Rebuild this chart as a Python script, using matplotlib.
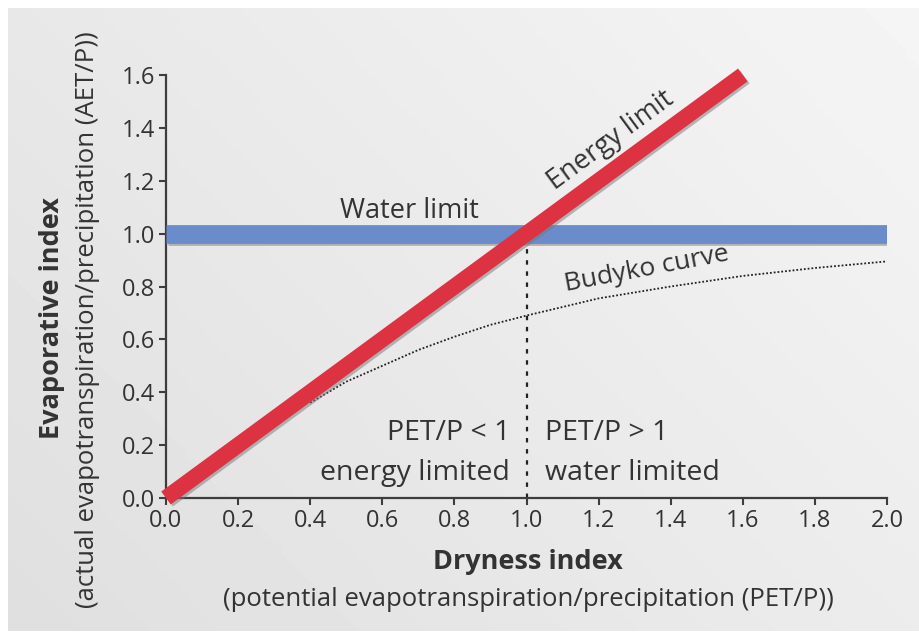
import matplotlib.pyplot as plt
import matplotlib.patheffects as pe
import numpy as np

plt.rcParams['font.family'] = ['Open Sans', 'DejaVu Sans']

# Data
energy_x = [0.0, 1.6]
energy_y = [0.0, 1.6]
water_x = [0.0, 2.0]
water_y = [1.0, 1.0]
budyko_x = [0.4, 0.5, 0.6, 0.7, 0.8, 0.9, 1.0, 1.2, 1.4, 1.6, 1.8, 2.0]
budyko_y = [0.36, 0.44, 0.50, 0.56, 0.61, 0.655, 0.69, 0.755, 0.80, 0.84, 0.87, 0.895]
x_ticks = [0.0, 0.2, 0.4, 0.6, 0.8, 1.0, 1.2, 1.4, 1.6, 1.8, 2.0]
y_ticks = [0.0, 0.2, 0.4, 0.6, 0.8, 1.0, 1.2, 1.4, 1.6]

text_col = '#333333'
spine_col = '#3d3d3d'

fig = plt.figure(figsize=(9.2, 6.33), dpi=100)
fig.patch.set_facecolor('white')

# grey backdrop (light in the upper right, darker lower left)
bg = fig.add_axes([8 / 920, 2 / 633, 1 - 8 / 920, 1 - 10 / 633], zorder=-10)
gx, gy = np.meshgrid(np.linspace(0, 1, 200), np.linspace(0, 1, 140))
shade = 0.875 + 0.085 * (0.6 * gx + 0.4 * (1 - gy))
bg.imshow(shade, cmap='gray', vmin=0, vmax=1, aspect='auto', extent=[0, 1, 0, 1])
bg.axis('off')

ax = fig.add_axes([166 / 920, 1 - 498 / 633, (887 - 166) / 920, (498 - 75) / 633])
ax.patch.set_alpha(0)

shadow = [pe.SimpleLineShadow(offset=(1.5, -1.5), shadow_color='#777777', alpha=0.5), pe.Normal()]

ax.plot(budyko_x, budyko_y, linestyle=(0, (1, 1.1)), color='#222222', linewidth=1.3, zorder=2)
ax.plot([1.0, 1.0], [0.0, 0.98], linestyle=(0, (2, 3)), color='#222222', linewidth=1.6, zorder=2)
ax.plot(water_x, water_y, color='#6a8ccb', linewidth=13.5, solid_capstyle='butt',
        path_effects=shadow, zorder=3)
ax.plot(energy_x, energy_y, color='#dc3242', linewidth=11.5, solid_capstyle='butt',
        path_effects=shadow, zorder=4, clip_on=False)

ax.set_xlim(0, 2.0)
ax.set_ylim(0, 1.6)
ax.set_xticks(x_ticks)
ax.set_yticks(y_ticks)
ax.set_xticklabels([f'{v:.1f}' for v in x_ticks])
ax.set_yticklabels([f'{v:.1f}' for v in y_ticks])
ax.tick_params(colors=spine_col, labelcolor=text_col, labelsize=17, length=5, width=1.5, pad=3)
for s in ['top', 'right']:
    ax.spines[s].set_visible(False)
for s in ['left', 'bottom']:
    ax.spines[s].set_color(spine_col)
    ax.spines[s].set_linewidth(1.6)

# annotations
ax.text(0.483, 1.059, 'Water limit', fontsize=19.5, color=text_col, va='baseline', ha='left')
ax.text(1.245, 1.33, 'Energy limit', fontsize=19.5, color=text_col, rotation=36.3,
        rotation_mode='anchor', ha='center', va='baseline')
ax.text(1.337, 0.843, 'Budyko curve', fontsize=19, color=text_col, rotation=10.7,
        rotation_mode='anchor', ha='center', va='baseline')
ax.text(0.954, 0.219, 'PET/P < 1', fontsize=20.5, color=text_col, ha='right', va='baseline')
ax.text(0.954, 0.068, 'energy limited', fontsize=20.5, color=text_col, ha='right', va='baseline')
ax.text(1.051, 0.219, 'PET/P > 1', fontsize=20.5, color=text_col, ha='left', va='baseline')
ax.text(1.051, 0.068, 'water limited', fontsize=20.5, color=text_col, ha='left', va='baseline')

# axis titles
fig.text(528 / 920, 1 - 562 / 633, 'Dryness index', fontsize=19.5, fontweight='bold',
         color=text_col, ha='center', va='center')
fig.text(528 / 920, 1 - 600 / 633, '(potential evapotranspiration/precipitation (PET/P))',
         fontsize=18.5, color=text_col, ha='center', va='center')
fig.text(52 / 920, 1 - 318 / 633, 'Evaporative index', fontsize=19.5, fontweight='bold',
         color=text_col, ha='center', va='center', rotation=90)
fig.text(88 / 920, 1 - 320 / 633, '(actual evapotranspiration/precipitation (AET/P))',
         fontsize=18.5, color=text_col, ha='center', va='center', rotation=90)

plt.savefig('out.png', dpi=100)
